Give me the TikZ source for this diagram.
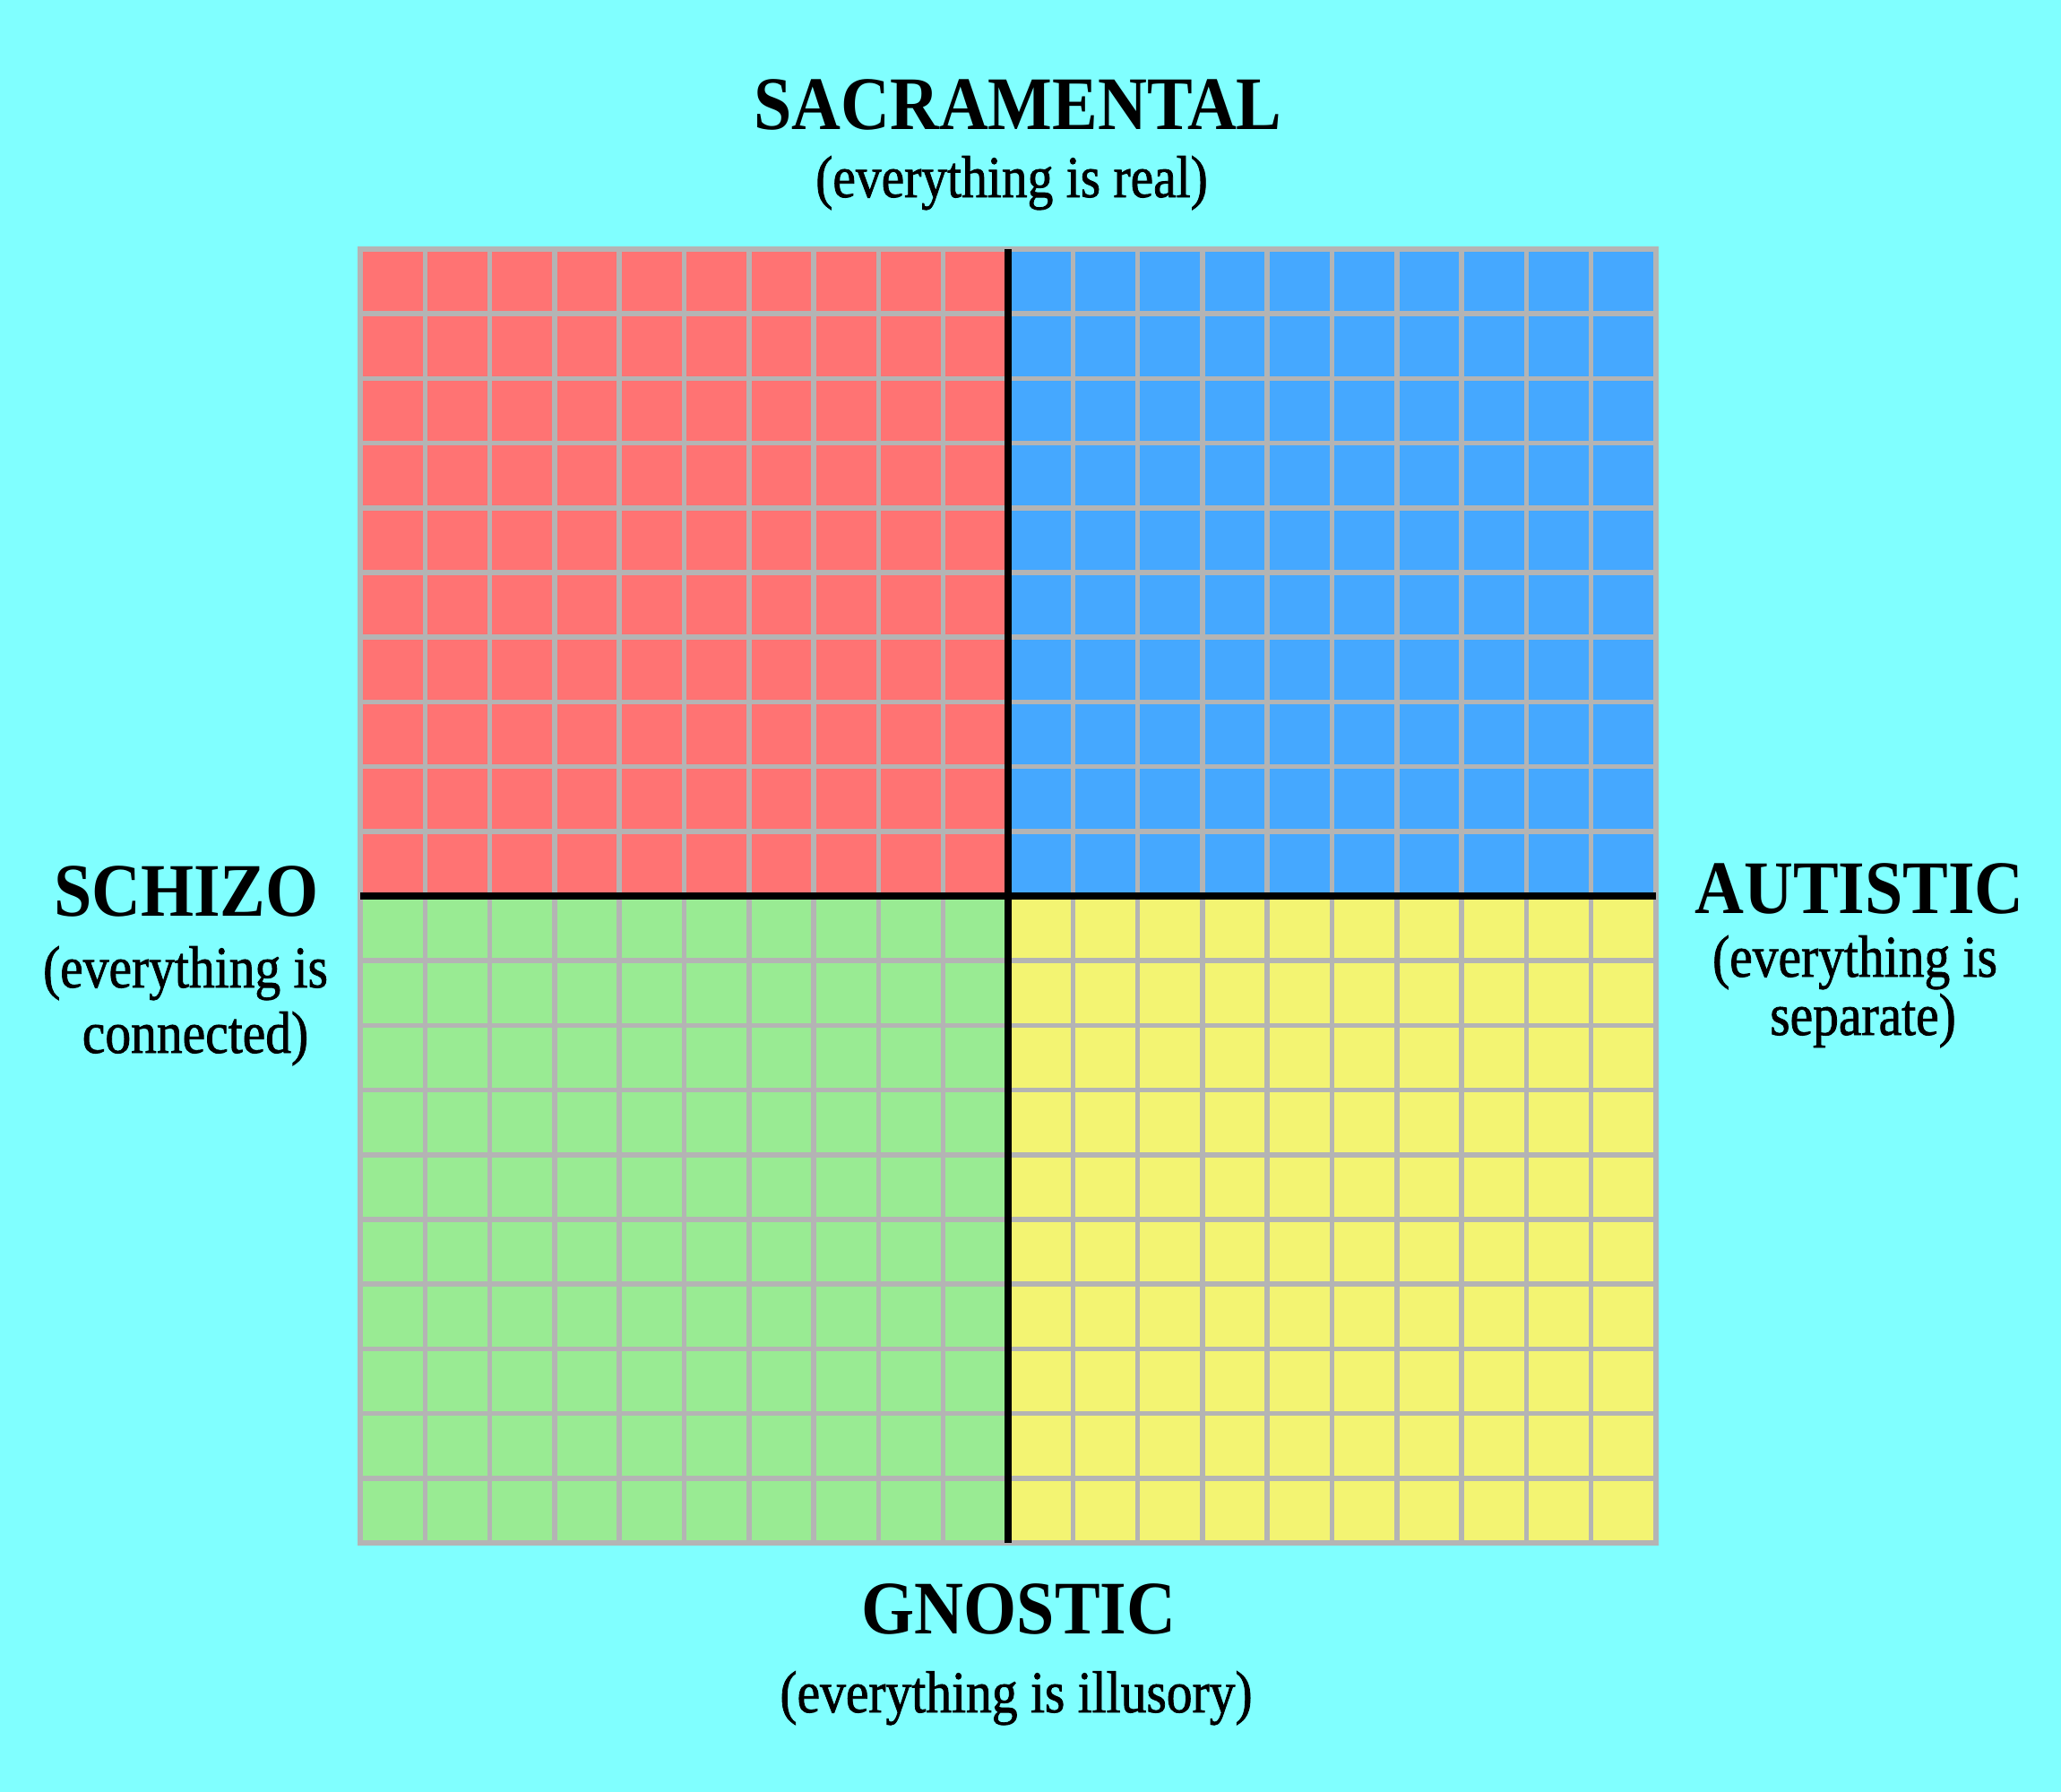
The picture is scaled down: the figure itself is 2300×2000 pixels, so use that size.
\documentclass[tikz,border=0pt]{standalone}
\usepackage{fontspec}
\setmainfont{Liberation Serif}
\newfontfamily\titlefont{Liberation Serif}[FakeStretch=0.9]
\newfontfamily\subfont{Liberation Serif}[FakeStretch=0.87,FakeBold=1.2]
\definecolor{bgc}{RGB}{128,255,255}
\definecolor{redq}{RGB}{255,115,115}
\definecolor{blueq}{RGB}{69,168,255}
\definecolor{greenq}{RGB}{153,235,147}
\definecolor{yellowq}{RGB}{243,244,114}
\definecolor{gridc}{RGB}{180,180,180}
\begin{document}
\begin{tikzpicture}[x=0.01cm,y=-0.01cm,
  gridline/.style={draw=gridc,line width=0.055cm,line cap=rect},
  axisline/.style={draw=black,line width=0.08cm},
  axtitle/.style={anchor=base,inner sep=0pt,font=\titlefont\bfseries\fontsize{24}{28}\selectfont},
  axsub/.style={anchor=base,inner sep=0pt,font=\subfont\fontsize{18.8}{22}\selectfont}]
\fill[bgc] (0,0) rectangle (2300,2000);
\useasboundingbox (0,0) rectangle (2300,2000);
% quadrants
\fill[redq] (402,278) rectangle (1125,1000);
\fill[blueq] (1125,278) rectangle (1848,1000);
\fill[greenq] (402,1000) rectangle (1125,1722);
\fill[yellowq] (1125,1000) rectangle (1848,1722);
% grid
\foreach \i in {0,...,20}{
  \draw[gridline] ({402+72.3*\i},278) -- ({402+72.3*\i},1722);
  \draw[gridline] (402,{278+72.2*\i}) -- (1848,{278+72.2*\i});
}
% axes
\coordinate (vtop) at (1125,278);
\coordinate (vbot) at (1125,1722);
\coordinate (hl) at (402,1000);
\coordinate (hr) at (1848,1000);
\draw[axisline] (vtop) -- (vbot);
\draw[axisline] (hl) -- (hr);
% labels
\node[axtitle] (sac) at (1136,145) {SACRAMENTAL};
\node[axsub] (sacsub) at (1129,220) {(everything is real)};
\node[axtitle] (gno) at (1137,1823) {GNOSTIC};
\node[axsub] (gnosub) at (1134,1911) {(everything is illusory)};
\node[axtitle] (sch) at (208,1022) {SCHIZO};
\node[axsub] (schsubA) at (207,1102) {(everything is};
\node[axsub] (schsubB) at (218,1175) {connected)};
\node[axtitle] (aut) at (2075,1019) {AUTISTIC};
\node[axsub] (autsubA) at (2070,1090) {(everything is};
\node[axsub] (autsubB) at (2079,1155) {separate)};
\end{tikzpicture}
\end{document}
